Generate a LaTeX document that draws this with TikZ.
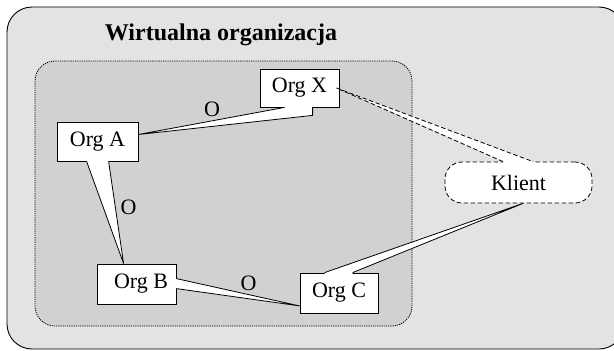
\documentclass[tikz,border=0pt]{standalone}
\usepackage{fontspec}
\setmainfont{Liberation Serif}
\usetikzlibrary{calc}
\definecolor{outerbg}{gray}{0.89}
\definecolor{innerbg}{gray}{0.82}
\tikzset{
  orgbox/.style={draw=black, fill=white, line width=0.8pt, inner sep=0pt,
    minimum width=79pt, minimum height=39pt, font=\fontsize{22}{24}\selectfont},
  klientbox/.style={draw=black, fill=white, line width=0.8pt, dash pattern=on 4.5pt off 2.5pt,
    rounded corners=17pt, inner sep=0pt, minimum width=147pt, minimum height=41pt,
    font=\fontsize{22}{24}\selectfont},
  wedgefill/.style={fill=white},
  wedgeline/.style={draw=black, line width=0.8pt, line join=bevel},
  olabel/.style={font=\fontsize{22}{24}\selectfont, inner sep=0pt},
}
\begin{document}
\begin{tikzpicture}[x=1pt,y=-1pt]
\useasboundingbox (0,0) rectangle (614,351);
\clip (0,0) rectangle (614,351);
% outer region
\draw[fill=outerbg, line width=0.9pt, rounded corners=25pt] (7,7) rectangle (624,349);
\node[anchor=base, font=\bfseries\fontsize{24}{26}\selectfont, inner sep=0pt] (title) at (221,40) {Wirtualna organizacja};
% inner region
\draw[fill=innerbg, line width=0.8pt, dash pattern=on 1.2pt off 1pt, rounded corners=20pt] (35,61) rectangle (412,326);
% nodes
\node[orgbox, minimum width=81pt] (A) at (97.5,141.5) {Org A};
\node[orgbox, minimum height=40pt] (B) at (136.5,284) {\hspace{9pt}Org B};
\node[orgbox, minimum width=78pt, minimum height=40pt] (C) at (339,293) {Org C};
\node[orgbox, minimum height=38pt] (X) at (299.5,88) {Org X};
\node[klientbox] (K) at (518.5,182.5) {Klient};
% wedge X -> A
\coordinate (xa1) at ([xshift=25pt]X.south west);
\coordinate (xa2) at ([xshift=53pt]X.south west);
\coordinate (xa3) at ([xshift=53pt,yshift=-8pt]X.south west);
\coordinate (xat) at ([yshift=7pt]A.east);
\fill[wedgefill] ([yshift=1.2pt]xa1) -- (xa1) -- (xat) -- (xa3) -- (xa2) -- ([yshift=1.2pt]xa2) -- cycle;
\draw[wedgeline] (xa1) -- (xat) -- (xa3) -- (xa2);
% wedge A -> B
\coordinate (ab1) at ([xshift=30pt]A.south west);
\coordinate (ab2) at ([xshift=52pt]A.south west);
\coordinate (abt) at ([xshift=27pt]B.north west);
\fill[wedgefill] ([yshift=1.2pt]ab1) -- (ab1) -- (abt) -- (ab2) -- ([yshift=1.2pt]ab2) -- cycle;
\draw[wedgeline] (ab1) -- (abt) -- (ab2);
% wedge B -> C
\coordinate (bc1) at ([yshift=-15pt]B.north east);
\coordinate (bc2) at ([yshift=-25pt]B.north east);
\coordinate (bct) at ([yshift=7.5pt]C.south west);
\fill[wedgefill] ([xshift=-1.2pt]bc1) -- (bc1) -- (bct) -- (bc2) -- ([xshift=-1.2pt]bc2) -- cycle;
\draw[wedgeline] (bc1) -- (bct) -- (bc2);
% wedge C -> Klient
\coordinate (ck1) at ([xshift=25pt]C.north west);
\coordinate (ck2) at ([xshift=53pt]C.north west);
\coordinate (ckt) at ([xshift=4.5pt]K.south);
\fill[wedgefill] ([yshift=-1.2pt]ck1) -- (ck1) -- (ckt) -- (ck2) -- ([yshift=-1.2pt]ck2) -- cycle;
\draw[wedgeline] (ck1) -- (ckt) -- (ck2);
% wedge Klient -> X (dashed)
\coordinate (kx1) at ([xshift=-15.5pt]K.north);
\coordinate (kx2) at ([xshift=14.5pt]K.north);
\coordinate (kxt) at ([xshift=-3pt]X.east);
\fill[wedgefill] ([yshift=-1.2pt]kx1) -- (kx1) -- (kxt) -- (kx2) -- ([yshift=-1.2pt]kx2) -- cycle;
\draw[wedgeline, dash pattern=on 4.5pt off 2.5pt] (kx1) -- (kxt) -- (kx2);
% labels
\node[olabel] (o1) at (212,109) {O};
\node[olabel] (o2) at (128.5,207) {O};
\node[olabel] (o3) at (248.5,283.5) {O};
\end{tikzpicture}
\end{document}
